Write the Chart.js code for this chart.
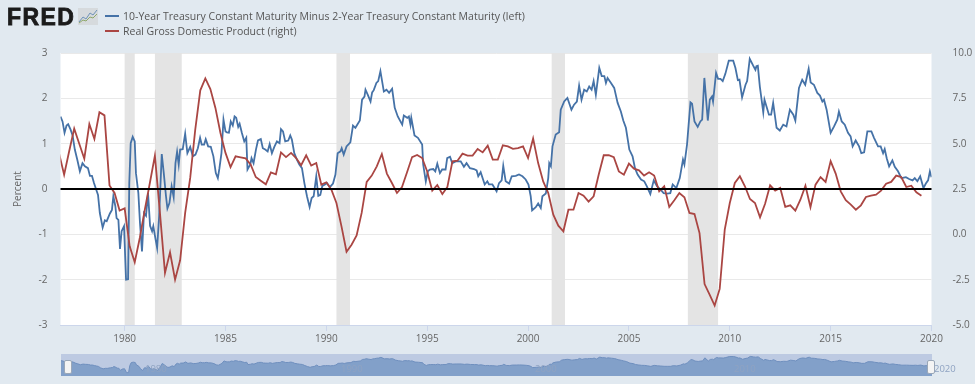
<!DOCTYPE html>
<html>
<head>
<meta charset="utf-8">
<title>FRED</title>
<script src="https://cdn.jsdelivr.net/npm/chart.js@4/dist/chart.umd.js"></script>
<style>
  html, body { margin: 0; padding: 0; background: #e1e9f0; overflow: hidden; }
  #page { position: relative; width: 975px; height: 384px; font-family: "Open Sans", sans-serif; color: #555; }
  #page canvas { position: absolute; display: block; }
  #mainChart { left: 0; top: 0; }
  #navChart { left: 61px; top: 354px; background: #bdcae2; }
  .logo { position: absolute; left: 7px; top: 4px; font: bold 23px "Liberation Sans", sans-serif; color: #1b1b1b; letter-spacing: 1.4px; -webkit-text-stroke: 0.8px #1b1b1b; }
  .logoIcon { position: absolute; left: 78px; top: 8px; }
  .legendRow { position: absolute; left: 123px; font-size: 10.5px; line-height: 14px; white-space: nowrap; color: #555; }
  .swatch { position: absolute; left: 105px; width: 14px; height: 2px; }
  .navLabel { position: absolute; top: 363px; font-size: 9.5px; line-height: 12px; color: #8fa3c2; }
  .handle { position: absolute; top: 360px; width: 6px; height: 12px; background: #f4f4f4; border: 1px solid #9aa7b8; border-radius: 2px; }
</style>
</head>
<body>
<div id="page">
  <canvas id="mainChart" width="975" height="384"></canvas>
  <canvas id="navChart" width="871" height="22"></canvas>
  <div class="logo">FRED</div>
  <svg class="logoIcon" width="20" height="17" viewBox="0 0 20 17">
    <rect width="20" height="17" fill="#d6dadd"/>
    <polyline points="1,14 5,9 8,11 12,5 15,7 19,2" fill="none" stroke="#6f93b8" stroke-width="1"/>
    <polyline points="1,15 5,12 8,13 12,9 15,10 19,6" fill="none" stroke="#8fa86b" stroke-width="1"/>
  </svg>
  <div class="swatch" style="top:15px;background:#4572a7"></div>
  <div class="legendRow" style="top:9px">10-Year Treasury Constant Maturity Minus 2-Year Treasury Constant Maturity (left)</div>
  <div class="swatch" style="top:30px;background:#aa4643"></div>
  <div class="legendRow" style="top:24px">Real Gross Domestic Product (right)</div>
  <div class="navLabel" style="left:145px">1980</div>
  <div class="navLabel" style="left:341px">1990</div>
  <div class="navLabel" style="left:535px">2000</div>
  <div class="navLabel" style="left:734px">2010</div>
  <div class="navLabel" style="left:934px">2020</div>
  <div class="handle" style="left:64px"></div>
  <div class="handle" style="left:927px"></div>
</div>
<script>
// 10Y minus 2Y spread, vertices
const spreadYears = [
  1976.82,1976.92,1977.02,1977.12,1977.20,1977.32,1977.42,1977.53,1977.65,1977.78,1977.91,1978.03,1978.18,1978.28,1978.38,1978.48,1978.58,1978.68,1978.77,1978.91,
  1979.02,1979.11,1979.27,1979.37,1979.44,1979.54,1979.60,1979.69,1979.77,1979.85,1979.97,1980.07,1980.17,1980.23,1980.30,1980.40,1980.50,1980.56,1980.68,1980.76,
  1980.86,1980.96,1981.06,1981.16,1981.26,1981.36,1981.42,1981.52,1981.61,1981.71,1981.84,1981.94,1982.05,1982.12,1982.22,1982.33,1982.43,1982.52,1982.60,1982.68,
  1982.75,1982.88,1983.00,1983.11,1983.25,1983.38,1983.51,1983.63,1983.74,1983.82,1983.94,1984.02,1984.14,1984.27,1984.40,1984.52,1984.62,1984.70,1984.80,1984.90,
  1985.00,1985.07,1985.17,1985.26,1985.36,1985.45,1985.53,1985.63,1985.70,1985.81,1985.93,1986.03,1986.09,1986.23,1986.29,1986.39,1986.51,1986.61,1986.75,1986.85,
  1986.97,1987.09,1987.19,1987.30,1987.42,1987.55,1987.68,1987.75,1987.85,1987.96,1988.11,1988.21,1988.29,1988.41,1988.54,1988.66,1988.79,1988.91,1989.04,1989.17,
  1989.27,1989.37,1989.50,1989.60,1989.70,1989.80,1989.93,1990.03,1990.17,1990.33,1990.45,1990.56,1990.70,1990.76,1990.86,1991.00,1991.19,
  1991.32,1991.44,1991.66,1991.77,1991.89,1991.94,1992.05,1992.19,1992.27,1992.35,1992.48,1992.57,1992.68,1992.85,1992.98,1993.11,1993.26,1993.39,1993.54,1993.76,
  1993.84,1994.01,1994.09,1994.17,1994.21,1994.37,1994.54,1994.75,1994.80,1994.93,1995.03,1995.13,1995.30,1995.40,1995.50,1995.63,1995.74,1995.91,1995.99,1996.13,
  1996.24,1996.41,1996.66,1996.82,1996.95,1997.12,1997.32,1997.45,1997.53,1997.65,1997.85,1997.98,1998.06,1998.23,1998.44,1998.56,1998.69,1998.77,1998.89,1999.06,
  1999.19,1999.39,1999.55,1999.72,1999.88,2000.02,2000.13,2000.20,2000.38,2000.50,2000.63,2000.71,2000.88,2001.00,2001.05,2001.13,2001.21,2001.37,2001.54,2001.62,
  2001.79,2001.95,2002.15,2002.28,2002.42,2002.53,2002.65,2002.78,2002.91,2003.03,2003.15,2003.25,2003.36,2003.53,2003.65,2003.78,2003.86,2003.94,2004.11,2004.27,
  2004.44,2004.60,2004.72,2004.85,2005.02,2005.18,2005.30,2005.43,2005.60,
  2005.76,2005.89,2006.06,2006.23,2006.39,2006.56,2006.72,2006.89,2007.05,2007.17,2007.35,2007.52,2007.68,2007.75,2007.88,2008.05,2008.13,2008.25,2008.41,2008.54,
  2008.63,2008.74,2008.91,2009.01,2009.12,2009.17,2009.32,2009.42,2009.54,2009.65,2009.78,2009.95,2010.17,2010.28,2010.40,2010.48,2010.61,2010.78,2010.86,2010.99,
  2011.16,2011.27,2011.32,2011.39,2011.49,2011.66,2011.72,2011.82,2011.94,2012.05,2012.15,2012.32,2012.48,2012.65,2012.81,2012.98,2013.15,2013.25,2013.43,2013.59,
  2013.74,2013.91,2014.01,2014.17,2014.34,2014.47,2014.59,2014.67,2014.80,2015.00,2015.17,2015.33,2015.41,2015.55,2015.70,2015.86,2015.99,2016.09,2016.24,2016.41,
  2016.52,2016.66,2016.82,2017.02,2017.15,2017.35,2017.48,2017.60,2017.68,2017.78,2017.90,2018.06,2018.18,2018.34,2018.51,2018.73,2018.89,2019.06,2019.17,2019.30,
  2019.44,2019.60,2019.72,2019.83,2019.92,2020.00
];
const spreadValues = [
  1.60,1.49,1.24,1.40,1.43,1.31,1.18,0.87,0.65,0.39,0.57,0.50,0.46,0.29,0.29,0.13,0,-0.13,-0.53,-0.85,
  -0.69,-0.71,-0.54,-0.46,-0.16,-0.38,-0.64,-0.68,-1.32,-0.93,-0.82,-2.00,-1.99,0.13,1.01,1.15,1.05,0.35,-0.09,-0.75,
  -1.38,-0.53,-0.59,-0.09,-0.81,-0.93,-0.82,-1.08,-1.30,-0.60,0.77,0.35,-0.16,-0.43,-0.31,0.06,-0.18,0.57,0.82,0.54,
  0.87,0.88,1.22,0.79,0.93,0.72,0.76,0.90,1.13,0.98,0.98,1.10,0.94,0.93,0.72,0.35,0.24,0.46,0.79,1.53,
  1.27,1.25,1.24,1.49,1.40,1.60,1.57,1.37,1.44,1.24,1.05,1.13,0.43,0.54,0.68,0.57,0.87,1.07,1.10,0.90,
  0.87,0.83,0.99,0.79,0.93,1.05,1.01,1.32,1.27,1.05,1.07,1.18,1.09,0.79,0.65,0.54,0.46,0.13,-0.16,-0.40,
  -0.20,-0.16,0.28,-0.15,-0.13,0.07,0.10,0.13,0.04,0.12,0.32,0.79,0.83,0.90,0.76,0.94,1.03,
  1.40,1.35,1.51,1.97,2.04,2.19,2.08,1.93,2.13,2.18,2.34,2.38,2.60,2.15,2.19,2.12,2.21,1.79,1.60,1.42,
  1.62,1.57,1.60,1.42,1.57,1.18,1.13,0.98,0.54,0.17,0.39,0.43,0.44,0.39,0.56,0.35,0.43,0.43,0.68,0.71,
  0.57,0.61,0.61,0.49,0.57,0.46,0.44,0.41,0.28,0.37,0.10,0.17,0.10,0.10,-0.05,0.13,0.19,0.51,0.17,0.12,
  0.28,0.29,0.32,0.28,0.21,0.10,-0.16,-0.47,-0.40,-0.32,-0.42,-0.16,-0.10,0.24,0.57,0.50,0.94,1.20,1.25,1.75,
  1.93,2.01,1.75,1.86,1.93,2.28,1.97,2.19,2.15,2.26,2.19,2.38,2.08,2.67,2.49,2.49,2.34,2.45,2.34,2.23,
  1.90,1.71,1.51,1.35,0.87,0.72,0.46,0.32,0.21,
  0.17,0.06,-0.11,0.19,0.06,-0.01,-0.09,-0.10,-0.09,0.10,0.02,0.24,0.65,0.54,0.98,1.91,1.88,1.49,1.37,1.49,
  1.53,2.45,1.51,1.97,2.04,1.93,2.56,2.43,2.43,2.38,2.54,2.83,2.83,2.67,2.40,2.41,2.02,2.30,2.38,2.87,
  2.72,2.63,2.71,2.72,2.26,1.69,1.97,1.82,1.64,1.64,1.90,1.35,1.29,1.42,1.38,1.75,1.64,1.51,2.23,2.41,
  2.30,2.65,2.35,2.30,2.12,2.06,1.93,1.97,1.75,1.24,1.38,1.53,1.71,1.49,1.42,1.24,1.16,0.94,1.07,0.94,
  0.79,0.81,1.27,1.27,1.13,0.94,0.94,0.79,0.88,0.68,0.50,0.63,0.49,0.39,0.24,0.26,0.22,0.19,0.24,0.17,
  0.28,0.02,0.12,0.19,0.39,0.26
];

// real GDP, quarterly from 1976 Q4
const gdpFirstYear = 1976.75;
const gdpValues = [
  4.45,3.29,4.58,5.83,5.00,4.17,6.08,5.26,6.73,6.56,2.70,2.28,1.31,1.43,-0.66,-1.54,-0.20,1.36,2.83,4.34,
  1.18,-2.13,-0.99,-2.50,-1.43,1.18,3.11,5.77,7.94,8.60,8.01,6.97,5.59,4.49,3.71,4.30,4.25,4.19,3.84,3.16,
  2.96,2.76,3.42,3.31,4.52,4.26,4.49,4.21,3.81,4.36,3.79,3.93,2.74,2.87,2.46,1.73,0.44,-0.96,
  -0.57,-0.06,1.18,2.89,3.24,3.75,4.43,3.35,2.83,2.28,2.61,3.42,4.26,4.38,4.21,3.47,2.41,2.72,2.22,2.61,
  4.03,4.06,4.45,4.34,4.34,4.71,4.52,4.89,4.12,4.12,4.91,4.85,4.71,4.76,4.85,4.21,5.28,3.93,2.92,2.28,
  1.08,0.48,0.17,1.36,1.36,2.28,2.13,1.80,2.10,3.29,4.36,4.36,4.26,3.47,3.29,3.90,3.62,3.53,
  3.24,3.42,3.24,2.37,2.65,1.51,1.88,2.28,2.04,1.18,1.12,0.07,-2.74,-3.33,-3.93,-3.01,0.26,1.73,2.83,3.20,
  2.65,1.95,1.73,0.94,1.69,2.70,2.41,2.56,1.51,1.60,1.31,1.91,2.68,1.49,2.74,3.16,2.89,4.04,3.35,2.37,
  1.88,1.64,1.36,1.60,2.06,2.13,2.19,2.41,2.79,2.89,3.24,3.16,2.61,2.68,2.32,2.13
];

const recessionStarts = [1980.0, 1981.5, 1990.5, 2001.17, 2007.92];
const recessionEnds = [1980.5, 1982.83, 1991.17, 2001.83, 2009.42];

const xTickYears = [1980, 1985, 1990, 1995, 2000, 2005, 2010, 2015, 2020];
const xMin = 1976.82;
const xMax = 2020;

const spreadPoints = spreadYears.map((year, i) => ({ x: year, y: spreadValues[i] }));
const gdpPoints = gdpValues.map((v, i) => ({ x: gdpFirstYear + i * 0.25, y: v }));

// recession bands go under the lines
const recessionBands = {
    id: 'recessionBands',
    beforeDatasetsDraw(chart) {
        const { ctx, chartArea, scales } = chart;
        ctx.save();
        ctx.fillStyle = '#e4e4e4';
        recessionStarts.forEach((start, i) => {
            const x0 = scales.x.getPixelForValue(start);
            const x1 = scales.x.getPixelForValue(recessionEnds[i]);
            ctx.fillRect(x0, chartArea.top, x1 - x0, chartArea.height);
        });
        ctx.restore();
    }
};

// black line at zero sits on top of both series
const zeroLine = {
    id: 'zeroLine',
    afterDatasetsDraw(chart) {
        const { ctx, chartArea, scales } = chart;
        const y = scales.y.getPixelForValue(0);
        ctx.save();
        ctx.strokeStyle = '#000';
        ctx.lineWidth = 2;
        ctx.beginPath();
        ctx.moveTo(chartArea.left, y);
        ctx.lineTo(chartArea.right, y);
        ctx.stroke();
        ctx.restore();
    }
};

const whitePlot = {
    id: 'whitePlot',
    beforeDraw(chart) {
        const { ctx, chartArea } = chart;
        ctx.fillStyle = '#fff';
        ctx.fillRect(chartArea.left, chartArea.top, chartArea.width, chartArea.height);
    }
};

new Chart(document.getElementById('mainChart').getContext('2d'), {
    type: 'line',
    data: {
        datasets: [
            { label: '10-Year Treasury Constant Maturity Minus 2-Year Treasury Constant Maturity (left)', data: spreadPoints, borderColor: '#4572a7', borderWidth: 1.8, pointRadius: 0, tension: 0, yAxisID: 'y', order: 2 },
            { label: 'Real Gross Domestic Product (right)', data: gdpPoints, borderColor: '#aa4643', borderWidth: 1.8, pointRadius: 0, tension: 0, yAxisID: 'y1', order: 1 }
        ]
    },
    options: {
        responsive: false,
        animation: false,
        layout: { padding: { top: 53 } },
        plugins: {
            legend: { display: false },
            title: { display: false },
            tooltip: { enabled: false }
        },
        scales: {
            x: {
                type: 'linear',
                min: xMin,
                max: xMax,
                afterBuildTicks(axis) { axis.ticks = xTickYears.map(v => ({ value: v })); },
                afterFit(axis) { axis.height = 59; },
                border: { color: '#ccd6eb' },
                grid: { drawOnChartArea: false, color: '#ccd6eb', tickLength: 6 },
                ticks: { color: '#666', font: { family: 'Open Sans', size: 10 }, maxRotation: 0, padding: 2, callback: v => String(v) }
            },
            y: {
                position: 'left',
                min: -3,
                max: 3,
                afterFit(axis) { axis.width = 60.5; },
                border: { display: false },
                grid: { color: '#e9e9e9', drawTicks: false },
                ticks: { stepSize: 1, color: '#666', font: { family: 'Open Sans', size: 10 }, padding: 13 },
                title: { display: true, text: 'Percent', color: '#666', font: { family: 'Open Sans', size: 10 }, padding: { top: 12, bottom: 0 } }
            },
            y1: {
                position: 'right',
                min: -5,
                max: 10,
                afterFit(axis) { axis.width = 43.5; },
                border: { display: false },
                grid: { display: false },
                ticks: { stepSize: 2.5, color: '#666', font: { family: 'Open Sans', size: 10 }, padding: 13, callback: v => v.toFixed(1) }
            }
        }
    },
    plugins: [whitePlot, recessionBands, zeroLine]
});

// overview strip under the chart
new Chart(document.getElementById('navChart').getContext('2d'), {
    type: 'line',
    data: {
        datasets: [
            { data: spreadPoints, borderColor: '#6f8fbe', backgroundColor: '#82a0c9', borderWidth: 1, pointRadius: 0, tension: 0, fill: 'start' }
        ]
    },
    options: {
        responsive: false,
        animation: false,
        layout: { padding: 0 },
        plugins: { legend: { display: false }, tooltip: { enabled: false } },
        scales: {
            x: { type: 'linear', min: xMin, max: xMax, display: false },
            y: { min: -3, max: 3.6, display: false }
        }
    }
});
</script>
</body>
</html>
